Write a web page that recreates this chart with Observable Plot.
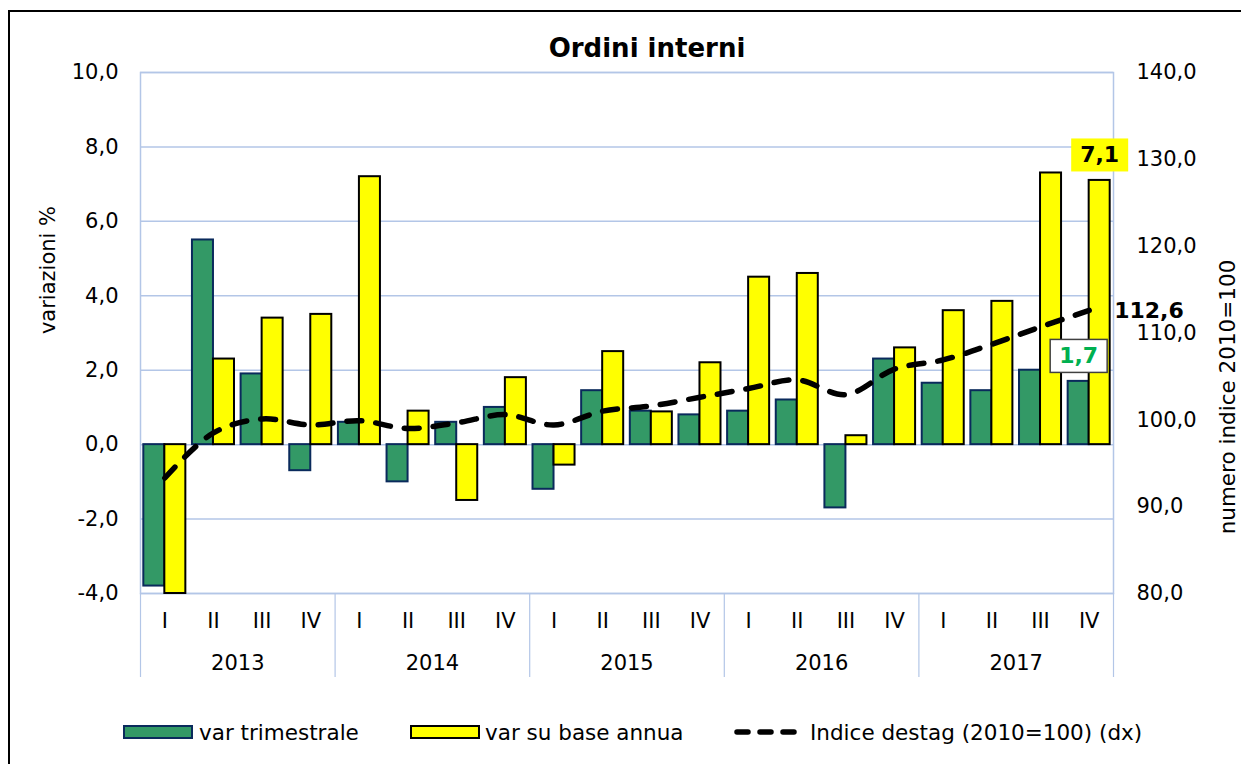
<!DOCTYPE html>
<html>
<head>
<meta charset="utf-8">
<script src="https://cdn.jsdelivr.net/npm/d3@7"></script>
<script src="https://cdn.jsdelivr.net/npm/@observablehq/plot@0.6"></script>
<style>
  body { margin: 0; background: #fff; font-family: "DejaVu Sans", Verdana, sans-serif; }
  #wrap { position: relative; width: 1241px; height: 764px; overflow: hidden; background: #fff; }
  #frame { position: absolute; left: 8px; top: 10px; width: 1300px; height: 800px; border: 2px solid #000; box-sizing: border-box; }
  #chart { position: absolute; left: 0; top: 0; }
  .leg { position: absolute; top: 718px; height: 28px; display: flex; align-items: center; font-size: 21.5px; color: #000; white-space: nowrap; }
  .sw { width: 70px; height: 14px; box-sizing: border-box; }
</style>
</head>
<body>
<div id="wrap">
  <div id="frame"></div>
  <div id="chart"></div>
  <div class="leg" style="left:123px"><div class="sw" style="background:#339966;border:2px solid #0A2A5C;margin-right:6px"></div><span id="l0"></span></div>
  <div class="leg" style="left:410px"><div class="sw" style="background:#FFFF00;border:2px solid #000;margin-right:5px"></div><span id="l1"></span></div>
  <div class="leg" style="left:734px"><svg width="70" height="14" style="margin-right:6px"><line x1="3" y1="7" x2="67" y2="7" stroke="#000" stroke-width="5.5" stroke-dasharray="11,12" stroke-linecap="round"/></svg><span id="l2"></span></div>
</div>
<script>
// ---- data ----
const years = ["2013", "2014", "2015", "2016", "2017"];
const quarters = ["I", "II", "III", "IV"];
const varTrimestrale = [-3.8, 5.5, 1.9, -0.7, 0.6, -1.0, 0.6, 1.0, -1.2, 1.45, 0.9, 0.8, 0.9, 1.2, -1.7, 2.3, 1.65, 1.45, 2.0, 1.7];
const varAnnua = [-4.0, 2.3, 3.4, 3.5, 7.2, 0.9, -1.5, 1.8, -0.55, 2.5, 0.88, 2.2, 4.5, 4.6, 0.24, 2.6, 3.6, 3.85, 7.3, 7.1];
const indice = [93.3, 98.5, 100.1, 99.4, 99.9, 99.0, 99.65, 100.6, 99.4, 101.0, 101.6, 102.6, 103.6, 104.6, 102.9, 105.85, 106.9, 108.7, 110.7, 112.6];
const leftTicks = [-4, -2, 0, 2, 4, 6, 8, 10];
const rightTicks = [80, 90, 100, 110, 120, 130, 140];
const seriesNames = ["var trimestrale", "var su base annua", "Indice destag (2010=100) (dx)"];
const titleText = "Ordini interni";
const leftLabel = "variazioni %";
const rightLabel = "numero indice 2010=100";

// ---- table ----
const rows = years.flatMap((yr, i) => quarters.map((q, j) => {
  const k = i * 4 + j;
  return {key: yr + "-" + q, year: yr, q, trim: varTrimestrale[k], annua: varAnnua[k], idx: indice[k]};
}));

const W = 1241, H = 700, ML = 140, MR = 128, MT = 72, MB = 107;
const L0 = -4, L1 = 10, R0 = 80, R1 = 140;
const toLeft = v => L0 + (v - R0) * (L1 - L0) / (R1 - R0);
const fromLeft = v => R0 + (v - L0) * (R1 - R0) / (L1 - L0);
const padIn = 0.136;
const step = (W - ML - MR) / rows.length;
const bw = step * (1 - padIn);
const fmt = v => (Math.round(v * 10) / 10).toFixed(1).replace(".", ",");
const grid = "#B3C6E7";
const last = rows[rows.length - 1];

document.getElementById("l0").textContent = seriesNames[0];
document.getElementById("l1").textContent = seriesNames[1];
document.getElementById("l2").textContent = seriesNames[2];

const chart = Plot.plot({
  width: W, height: H,
  marginLeft: ML, marginRight: MR, marginTop: MT, marginBottom: MB,
  style: {fontFamily: "'DejaVu Sans', Verdana, sans-serif", fontSize: "21px", color: "#000", background: "transparent", overflow: "visible"},
  x: {type: "band", domain: rows.map(d => d.key), paddingInner: padIn, paddingOuter: padIn / 2, round: false},
  y: {domain: [L0, L1], nice: false},
  marks: [
    Plot.ruleY(leftTicks, {stroke: grid, strokeWidth: 1.5}),
    Plot.frame({stroke: grid, strokeWidth: 1.5}),
    Plot.ruleX(years, {x: yr => yr + "-I", dx: -step / 2, stroke: grid, strokeWidth: 1.2, insetTop: H - MT - MB, insetBottom: -84}),
    Plot.ruleX([years[years.length - 1]], {x: yr => yr + "-IV", dx: step / 2, stroke: grid, strokeWidth: 1.2, insetTop: H - MT - MB, insetBottom: -84}),
    Plot.barY(rows, {x: "key", y: "trim", fill: "#339966", stroke: "#0A2A5C", strokeWidth: 2, insetRight: bw / 2}),
    Plot.barY(rows, {x: "key", y: "annua", fill: "#FFFF00", stroke: "#000", strokeWidth: 2, insetLeft: bw / 2}),
    Plot.lineY(rows, {x: "key", y: d => toLeft(d.idx), stroke: "#000", strokeWidth: 5.5, strokeDasharray: "15,14", strokeLinecap: "round", curve: "catmull-rom"}),
    Plot.axisY({ticks: leftTicks, tickFormat: fmt, tickSize: 0, tickPadding: 22, fontSize: 21, label: null}),
    Plot.axisY({ticks: rightTicks.map(toLeft), anchor: "right", tickFormat: v => fmt(fromLeft(v)), tickSize: 0, tickPadding: 23, fontSize: 21, label: null}),
    Plot.axisX({tickFormat: k => k.split("-")[1], tickSize: 0, tickPadding: 20, fontSize: 21, label: null}),
    Plot.text(years, {x: yr => yr + "-II", dx: step / 2, frameAnchor: "bottom", dy: 70, lineAnchor: "middle", text: d => d, fontSize: 21}),
    Plot.text([titleText], {frameAnchor: "top", dx: 20, dy: -24, lineAnchor: "middle", textAnchor: "middle", text: d => d, fontSize: 26, fontWeight: "bold"}),
    Plot.text([leftLabel], {frameAnchor: "left", rotate: -90, dx: -92, dy: -63, lineAnchor: "middle", textAnchor: "middle", text: d => d, fontSize: 21}),
    Plot.text([rightLabel], {frameAnchor: "right", rotate: -90, dx: 115, dy: 64, lineAnchor: "middle", textAnchor: "middle", text: d => d, fontSize: 21.5}),
    Plot.text([last], {x: "key", y: "annua", text: d => fmt(d.annua), dx: bw / 4, dy: -25, fontSize: 22, fontWeight: "bold"}),
    Plot.text([last], {x: "key", y: "trim", text: d => fmt(d.trim), dx: -bw / 4, dy: -25, fontSize: 22, fontWeight: "bold", fill: "#00B050"}),
    Plot.text([last], {x: "key", y: d => toLeft(d.idx), text: d => fmt(d.idx), textAnchor: "start", dx: 25, dy: 1, fontSize: 22, fontWeight: "bold"})
  ]
});
document.getElementById("chart").appendChild(chart);

// background boxes behind the two value labels
function boxBehind(label, fill, stroke, px, py) {
  chart.querySelectorAll("text").forEach(t => {
    if (t.textContent !== label) return;
    const b = t.getBBox();
    const r = document.createElementNS("http://www.w3.org/2000/svg", "rect");
    r.setAttribute("x", b.x - px);
    r.setAttribute("y", b.y - py);
    r.setAttribute("width", b.width + 2 * px);
    r.setAttribute("height", b.height + 2 * py);
    r.setAttribute("fill", fill);
    if (stroke) { r.setAttribute("stroke", stroke); r.setAttribute("stroke-width", "1.5"); }
    if (t.getAttribute("transform")) r.setAttribute("transform", t.getAttribute("transform"));
    t.parentNode.insertBefore(r, t);
  });
}
boxBehind(fmt(last.annua), "#FFFF00", null, 9, 4);
boxBehind(fmt(last.trim), "#FFFFFF", "#404040", 9, 4);
</script>
</body>
</html>
